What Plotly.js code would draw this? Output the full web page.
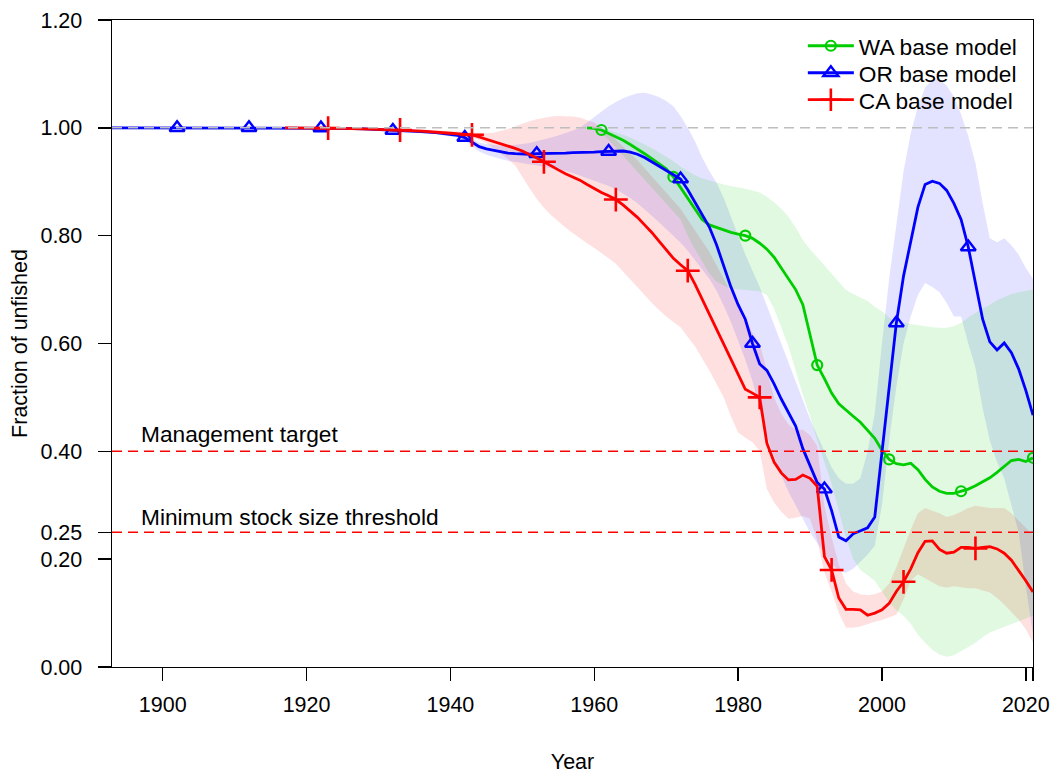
<!DOCTYPE html>
<html>
<head>
<meta charset="utf-8">
<script src="https://cdn.plot.ly/plotly-3.0.1.min.js"></script>
<style>html,body{margin:0;padding:0;background:#fff;}#chart{width:1057px;height:776px;}</style>
</head>
<body>
<div id="chart"></div>
<script>
// ---------------- data ----------------
var orYears = [1892,1900,1910,1920,1925,1928,1930,1932,1934,1936,1938,1940,
  1941,1942,1943,1944,1945,1946,1947,1948,1949,1950,
  1951,1952,1953,1954,1955,1956,1957,1958,1959,1960,
  1961,1962,1963,1964,1965,1966,1967,1968,1969,1970,
  1971,1972,1973,1974,1975,1976,1977,1978,1979,1980,
  1981,1982,1983,1984,1985,1986,1987,1988,1989,1990,
  1991,1992,1993,1994,1995,1996,1997,1998,1999,2000,
  2001,2002,2003,2004,2005,2006,2007,2008,2009,2010,
  2011,2012,2013,2014,2015,2016,2017,2018,2019,2020,2021];
var orValue = [1.0,1.0,1.0,1.0,0.999,0.998,0.997,0.995,0.994,0.993,0.991,0.988,
  0.986,0.982,0.973,0.965,0.961,0.958,0.955,0.953,0.952,0.951,
  0.951,0.952,0.952,0.953,0.953,0.953,0.954,0.954,0.955,0.955,
  0.956,0.956,0.957,0.957,0.955,0.951,0.945,0.937,0.929,0.921,
  0.914,0.905,0.885,0.862,0.840,0.816,0.783,0.745,0.705,0.672,
  0.645,0.600,0.562,0.550,0.525,0.497,0.472,0.447,0.405,0.372,
  0.342,0.330,0.290,0.241,0.234,0.247,0.252,0.258,0.278,0.395,
  0.520,0.638,0.725,0.792,0.853,0.895,0.901,0.897,0.884,0.860,
  0.830,0.779,0.710,0.645,0.603,0.588,0.601,0.583,0.553,0.513,0.467];
var orUpper = [1.002,1.002,1.002,1.002,1.001,1.0,0.999,0.998,0.997,0.996,0.994,0.992,
  0.990,0.987,0.980,0.973,0.970,0.968,0.967,0.967,0.968,0.970,
  0.972,0.975,0.978,0.982,0.986,0.990,0.995,1.000,1.010,1.020,
  1.030,1.040,1.048,1.055,1.060,1.064,1.065,1.062,1.057,1.050,
  1.040,1.022,1.000,0.975,0.945,0.920,0.898,0.870,0.835,0.800,
  0.765,0.735,0.705,0.670,0.635,0.600,0.565,0.530,0.495,0.460,
  0.430,0.400,0.370,0.350,0.340,0.340,0.350,0.400,0.470,0.600,
  0.720,0.820,0.920,0.990,1.040,1.075,1.090,1.090,1.078,1.058,
  1.025,0.985,0.935,0.860,0.795,0.788,0.795,0.782,0.765,0.740,0.720];
var orLower = [0.998,0.998,0.998,0.998,0.997,0.996,0.995,0.992,0.991,0.990,0.988,0.984,
  0.981,0.976,0.966,0.956,0.950,0.946,0.942,0.939,0.936,0.934,
  0.932,0.930,0.928,0.926,0.923,0.920,0.916,0.912,0.907,0.902,
  0.897,0.892,0.886,0.878,0.870,0.860,0.849,0.837,0.825,0.813,
  0.800,0.787,0.772,0.755,0.738,0.720,0.698,0.670,0.640,0.605,
  0.570,0.530,0.480,0.430,0.390,0.355,0.325,0.300,0.275,0.250,
  0.230,0.210,0.192,0.178,0.175,0.182,0.195,0.208,0.225,0.300,
  0.420,0.520,0.600,0.650,0.690,0.712,0.705,0.695,0.675,0.650,
  0.650,0.600,0.555,0.480,0.420,0.380,0.350,0.300,0.250,0.150,0.060];

var waYears = [1959,1960,1961,1962,1963,1964,1965,1966,1967,1968,1969,1970,
  1971,1972,1973,1974,1975,1976,1977,1978,1979,1980,
  1981,1982,1983,1984,1985,1986,1987,1988,1989,1990,
  1991,1992,1993,1994,1995,1996,1997,1998,1999,2000,
  2001,2002,2003,2004,2005,2006,2007,2008,2009,2010,
  2011,2012,2013,2014,2015,2016,2017,2018,2019,2020,2021];
var waValue = [1.0,0.999,0.996,0.990,0.983,0.977,0.969,0.961,0.952,0.943,0.934,0.924,
  0.909,0.889,0.868,0.848,0.830,0.820,0.815,0.810,0.806,0.803,
  0.800,0.795,0.786,0.775,0.760,0.740,0.720,0.700,0.672,0.615,
  0.560,0.535,0.508,0.488,0.476,0.465,0.454,0.440,0.424,0.402,
  0.385,0.377,0.375,0.378,0.366,0.348,0.334,0.326,0.322,0.322,
  0.326,0.330,0.336,0.343,0.351,0.361,0.372,0.383,0.385,0.381,0.388];
var waUpper = [1.0,1.0,0.999,0.996,0.992,0.987,0.982,0.976,0.969,0.962,0.955,0.947,
  0.938,0.928,0.920,0.912,0.906,0.902,0.898,0.895,0.892,0.890,
  0.887,0.884,0.880,0.872,0.862,0.850,0.835,0.815,0.792,0.775,
  0.760,0.745,0.730,0.713,0.699,0.692,0.685,0.679,0.668,0.660,
  0.648,0.641,0.638,0.636,0.633,0.631,0.630,0.629,0.629,0.632,
  0.638,0.648,0.657,0.665,0.672,0.680,0.686,0.692,0.695,0.698,0.700];
var waLower = [1.0,0.997,0.990,0.978,0.964,0.950,0.935,0.920,0.905,0.890,0.875,0.860,
  0.845,0.830,0.800,0.775,0.752,0.730,0.715,0.707,0.702,0.700,
  0.699,0.698,0.697,0.690,0.665,0.630,0.595,0.550,0.505,0.465,
  0.420,0.380,0.340,0.290,0.240,0.200,0.180,0.170,0.160,0.140,
  0.120,0.105,0.095,0.080,0.060,0.045,0.032,0.023,0.019,0.022,
  0.030,0.037,0.045,0.055,0.064,0.070,0.075,0.080,0.085,0.090,0.095];

var caYears = [1917,1920,1925,1930,1933,1936,1940,
  1941,1942,1943,1944,1945,1946,1947,1948,1949,1950,
  1951,1952,1953,1954,1955,1956,1957,1958,1959,1960,
  1961,1962,1963,1964,1965,1966,1967,1968,1969,1970,
  1971,1972,1973,1974,1975,1976,1977,1978,1979,1980,
  1981,1982,1983,1984,1985,1986,1987,1988,1989,1990,
  1991,1992,1993,1994,1995,1996,1997,1998,1999,2000,
  2001,2002,2003,2004,2005,2006,2007,2008,2009,2010,
  2011,2012,2013,2014,2015,2016,2017,2018,2019,2020,2021];
var caValue = [1.0,1.0,0.999,0.997,0.996,0.994,0.990,
  0.989,0.988,0.987,0.983,0.979,0.975,0.971,0.967,0.962,0.957,
  0.951,0.944,0.937,0.929,0.922,0.915,0.909,0.903,0.895,0.887,
  0.880,0.874,0.867,0.857,0.846,0.834,0.820,0.806,0.790,0.774,
  0.758,0.746,0.735,0.710,0.683,0.655,0.627,0.599,0.571,0.542,
  0.515,0.508,0.500,0.415,0.380,0.360,0.347,0.348,0.356,0.350,
  0.335,0.205,0.180,0.128,0.107,0.107,0.106,0.096,0.100,0.106,
  0.118,0.140,0.158,0.182,0.212,0.233,0.234,0.218,0.211,0.213,
  0.222,0.222,0.220,0.222,0.223,0.219,0.211,0.198,0.180,0.160,0.139];
var caUpper = [1.0,1.001,1.001,0.999,0.998,0.997,0.994,
  0.993,0.992,0.991,0.990,0.990,0.991,0.994,0.998,1.003,1.008,
  1.012,1.016,1.019,1.021,1.022,1.022,1.021,1.019,1.015,1.010,
  1.000,0.990,0.978,0.965,0.953,0.940,0.925,0.910,0.895,0.880,
  0.865,0.850,0.830,0.810,0.790,0.770,0.745,0.720,0.695,0.670,
  0.645,0.620,0.600,0.550,0.500,0.470,0.450,0.440,0.440,0.430,
  0.410,0.300,0.240,0.190,0.155,0.140,0.135,0.133,0.135,0.140,
  0.155,0.185,0.220,0.255,0.285,0.295,0.290,0.285,0.278,0.282,
  0.288,0.295,0.299,0.297,0.295,0.295,0.295,0.285,0.272,0.258,0.245];
var caLower = [1.0,0.999,0.997,0.995,0.994,0.991,0.986,
  0.985,0.984,0.982,0.978,0.972,0.962,0.952,0.942,0.930,0.910,
  0.888,0.868,0.852,0.838,0.826,0.815,0.805,0.795,0.786,0.777,
  0.768,0.758,0.748,0.735,0.720,0.705,0.690,0.675,0.662,0.650,
  0.640,0.630,0.612,0.595,0.572,0.550,0.525,0.500,0.465,0.435,
  0.425,0.417,0.400,0.330,0.305,0.288,0.275,0.277,0.280,0.275,
  0.235,0.175,0.140,0.100,0.073,0.073,0.075,0.080,0.084,0.087,
  0.092,0.097,0.125,0.160,0.172,0.165,0.157,0.150,0.147,0.150,
  0.148,0.146,0.146,0.142,0.138,0.128,0.116,0.103,0.088,0.070,0.045];

var waMarkYears = [1961,1971,1981,1991,2001,2011,2021];
var orMarkYears = [1902,1912,1922,1932,1942,1952,1962,1972,1982,1992,2002,2012];
var caMarkYears = [1923,1933,1943,1953,1963,1973,1983,1993,2003,2013];

var seriesNames = ['WA base model', 'OR base model', 'CA base model'];

var xTickVals = [1900,1920,1940,1960,1980,2000,2020,2021];
var xTickText = ['1900','1920','1940','1960','1980','2000','2020',''];
var yTickVals = [0,0.2,0.25,0.4,0.6,0.8,1.0,1.2];
var yTickText = ['0.00','0.20','0.25','0.40','0.60','0.80','1.00','1.20'];

// ---------------- helpers ----------------
function interp(xs, ys, x) {
  for (var i = 0; i < xs.length - 1; i++) {
    if (x >= xs[i] && x <= xs[i+1]) {
      var t = (x - xs[i]) / (xs[i+1] - xs[i]);
      return ys[i] + t * (ys[i+1] - ys[i]);
    }
  }
  return ys[ys.length - 1];
}
function band(xs, up, lo, color) {
  return {x: xs.concat(xs.slice().reverse()), y: up.concat(lo.slice().reverse()),
    type: 'scatter', mode: 'lines', fill: 'toself', fillcolor: color,
    line: {width: 0, color: 'rgba(0,0,0,0)'}, hoverinfo: 'skip', showlegend: false};
}
var LW = 2.8;
function line(xs, ys, color) {
  return {x: xs, y: ys, type: 'scatter', mode: 'lines',
    line: {color: color, width: LW}, showlegend: false};
}
function marks(xs, ys, mys, color, symbol, size, lw) {
  return {x: mys, y: mys.map(function (m) { return interp(xs, ys, m); }),
    type: 'scatter', mode: 'markers', showlegend: false,
    marker: {symbol: symbol, size: size, color: color, line: {color: color, width: lw}}};
}
function legendItem(name, color, symbol, size, lw, lg) {
  return {x: [null], y: [null], type: 'scatter', mode: 'lines+markers', name: name,
    legend: lg, showlegend: true,
    line: {color: color, width: LW},
    marker: {symbol: symbol, size: size, color: color, line: {color: color, width: lw}}};
}

var GREEN = '#00CD00', BLUE = '#0000FF', RED = '#FF0000';

var traces = [
  band(caYears, caUpper, caLower, 'rgba(255,0,0,0.12)'),
  band(orYears, orUpper, orLower, 'rgba(0,0,255,0.11)'),
  band(waYears, waUpper, waLower, 'rgba(0,205,0,0.12)'),
  line(waYears, waValue, GREEN),
  marks(waYears, waValue, waMarkYears, GREEN, 'circle-open', 10, 2.2),
  line(orYears, orValue, BLUE),
  marks(orYears, orValue, orMarkYears, BLUE, 'triangle-up-open', 13, 2.4),
  line(caYears, caValue, RED),
  marks(caYears, caValue, caMarkYears, RED, 'cross-thin-open', 17, 2.6),
  legendItem(seriesNames[0], GREEN, 'circle-open', 10, 2.2, 'legend'),
  legendItem(seriesNames[1], BLUE, 'triangle-up-open', 13, 2.4, 'legend2'),
  legendItem(seriesNames[2], RED, 'cross-thin-open', 17, 2.6, 'legend3')
];

var FONT = 'Liberation Sans, Arial, sans-serif';
var TXT = 22.7;

function legendBox(py) {
  return {x: 0.7501, y: py, xanchor: 'left', yanchor: 'middle', itemwidth: 46,
    bgcolor: 'rgba(0,0,0,0)', borderwidth: 0, font: {size: TXT, family: FONT, color: '#000'}};
}

var layout = {
  width: 1057, height: 776,
  margin: {l: 112, r: 24, t: 20, b: 109},
  paper_bgcolor: '#ffffff', plot_bgcolor: '#ffffff',
  font: {family: FONT, size: 21, color: '#000'},
  showlegend: true,
  legend: legendBox(0.9598),
  legend2: legendBox(0.9181),
  legend3: legendBox(0.8764),
  xaxis: {range: [1892.95, 2021], tickvals: xTickVals, ticktext: xTickText,
    ticks: 'outside', ticklen: 13, tickwidth: 1.4, tickcolor: '#000',
    showline: true, linecolor: '#000', linewidth: 1.4, mirror: true,
    showgrid: false, zeroline: false, ticklabelstandoff: 5,
    tickfont: {size: 21.5, family: FONT},
    title: {text: 'Year', font: {size: 21.5, family: FONT}, standoff: 37}},
  yaxis: {range: [0, 1.2], tickvals: yTickVals, ticktext: yTickText,
    ticks: 'outside', ticklen: 13, tickwidth: 1.4, tickcolor: '#000',
    showline: true, linecolor: '#000', linewidth: 1.4, mirror: true,
    showgrid: false, zeroline: false, ticklabelstandoff: 11,
    tickfont: {size: 21.5, family: FONT},
    title: {text: 'Fraction of unfished', font: {size: 21.5, family: FONT}, standoff: 7}},
  shapes: [
    {type: 'line', xref: 'paper', x0: 0, x1: 1, yref: 'y', y0: 1, y1: 1,
      line: {color: '#BEBEBE', width: 1.5, dash: '10px,6px'}, layer: 'above'},
    {type: 'line', xref: 'paper', x0: 0, x1: 1, yref: 'y', y0: 0.4, y1: 0.4,
      line: {color: RED, width: 1.5, dash: '10px,6px'}, layer: 'above'},
    {type: 'line', xref: 'paper', x0: 0, x1: 1, yref: 'y', y0: 0.25, y1: 0.25,
      line: {color: RED, width: 1.5, dash: '10px,6px'}, layer: 'above'},
    {type: 'line', xref: 'paper', x0: -0.0141, x1: 0, yref: 'paper', y0: 0, y1: 0,
      line: {color: '#000', width: 1.4}, layer: 'above'}
  ],
  annotations: [
    {text: 'Management target', xref: 'x', x: 1897.1, yref: 'y', y: 0.4,
      xanchor: 'left', yanchor: 'bottom', xshift: -3, yshift: 2, showarrow: false,
      font: {size: TXT, family: FONT, color: '#000'}},
    {text: 'Minimum stock size threshold', xref: 'x', x: 1897.1, yref: 'y', y: 0.25,
      xanchor: 'left', yanchor: 'bottom', xshift: -3, yshift: 0, showarrow: false,
      font: {size: TXT, family: FONT, color: '#000'}}
  ]
};

Plotly.newPlot('chart', traces, layout, {displayModeBar: false, staticPlot: true});
</script>
</body>
</html>
